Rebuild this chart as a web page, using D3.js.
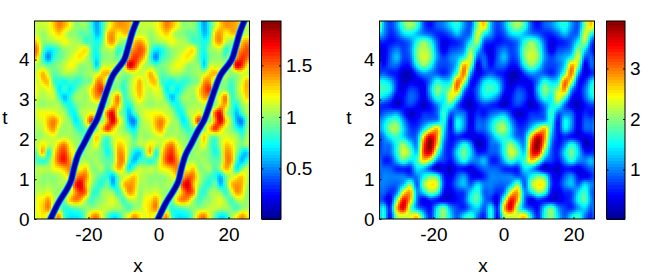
<!DOCTYPE html>
<html><head><meta charset="utf-8">
<script src="https://cdn.jsdelivr.net/npm/d3@7"></script>
<style>html,body{margin:0;padding:0;background:#fff}svg{display:block}text{font-family:"Liberation Sans",Arial,sans-serif;fill:#000}</style>
</head><body><svg id="c" width="656" height="277"></svg>
<script>
const xDomain=[-35.4,26], tDomain=[0,4.97], period=30.7;
const xTicks=[-20,0,20], tTicks=[0,1,2,3,4];
const leftBarTicks=[0.5,1,1.5], rightBarTicks=[1,2,3];
const leftRange=[0.01,1.93], rightRange=[0.02,3.94];
const jetStops=[0,0.125,0.375,0.625,0.875,1];
const jetColors=["#00008f","#0000ff","#00ffff","#ffff00","#ff0000","#800000"];
// dark trough in the left panel: x and t along its track
const troughX=[-30.8,-28.6,-26.2,-25.0,-24.1,-22.9,-21.4,-19.5,-17.6,-16.2,-14.6,-12.9,-9.8,-8.6,-7.5,-6.2];
const troughT=[0,0.40,0.74,0.95,1.28,1.62,1.87,2.20,2.49,2.83,3.25,3.62,4.0,4.33,4.67,4.97];
// one spatial period, rows run from top (t≈5) to bottom (t=0)
const leftField=[
[1.1,1.1,1.15,1.3,1.45,1.35,1.2,1.0,1.0,1.0,0.8,0.55,0.8,1.1,1.3,1.4,1.4,1.35,1.2,1.1],
[1.1,1.0,1.1,1.2,1.3,1.15,1.0,1.0,0.9,0.9,0.85,0.6,0.8,1.3,1.4,1.2,1.3,1.3,1.1,1.1],
[1.25,1.0,1.0,1.05,1.1,1.2,1.1,1.05,1.0,0.85,0.85,0.75,0.9,1.3,1.4,1.1,1.0,1.0,1.3,1.4],
[1.4,0.9,0.7,0.75,0.9,1.0,1.05,1.1,1.2,1.25,0.9,0.75,1.0,1.05,1.1,0.8,0.95,1.3,1.45,1.55],
[1.25,0.8,0.5,0.8,0.9,1.0,1.1,1.2,1.25,1.1,0.9,0.7,0.95,1.0,1.0,0.9,1.2,1.4,1.6,1.5],
[1.05,1.0,0.9,0.95,1.0,1.1,1.2,1.15,1.0,1.0,1.0,0.65,1.1,1.1,1.1,1.1,1.1,1.75,1.6,1.25],
[1.15,1.35,1.1,0.9,0.95,1.05,1.05,1.0,0.95,1.0,1.05,1.1,1.3,1.35,1.2,1.1,1.0,1.05,1.15,1.1],
[1.1,1.3,1.3,0.85,0.8,0.75,0.85,0.8,0.85,0.95,1.0,1.4,1.4,1.0,1.0,1.0,0.85,1.0,1.15,1.35],
[1.15,1.1,1.2,1.05,0.7,0.85,0.7,0.85,1.0,1.05,1.25,1.5,1.6,1.1,1.0,1.0,0.8,1.0,1.2,1.35],
[1.1,1.05,1.1,1.1,0.85,0.6,0.8,1.0,1.05,1.0,1.2,1.4,1.35,1.05,1.2,1.45,0.85,0.95,1.1,1.3],
[1.05,1.0,1.05,1.05,1.05,0.85,0.75,0.9,1.0,1.05,1.05,1.1,1.0,1.0,1.3,1.35,0.9,0.75,1.0,1.1],
[1.15,1.2,1.2,1.2,1.1,1.05,0.8,0.75,1.05,1.1,1.2,1.1,1.0,1.5,1.7,1.1,0.9,0.6,0.85,1.05],
[1.1,1.15,1.35,1.45,1.25,1.05,1.0,0.7,0.85,1.2,1.6,1.3,1.0,1.4,1.75,1.3,1.0,0.6,0.5,0.95],
[1.05,1.1,1.3,1.4,1.1,1.0,1.05,0.9,0.8,0.95,1.0,1.0,1.3,1.6,1.35,1.1,1.0,0.8,0.7,1.0],
[1.0,1.05,1.1,1.15,1.05,1.1,1.05,1.0,0.95,0.85,1.0,1.3,1.0,0.9,1.1,1.15,1.1,1.05,0.85,1.05],
[1.1,1.25,1.1,1.1,1.35,1.45,1.2,1.05,1.0,1.0,1.05,1.2,0.9,0.8,1.05,1.3,1.25,1.05,0.95,1.05],
[1.0,1.35,0.75,1.2,1.5,1.6,1.3,1.15,1.0,1.0,1.05,1.0,0.95,0.75,0.95,1.4,1.35,1.0,0.7,0.65],
[0.85,0.8,0.9,1.25,1.55,1.65,1.4,1.2,1.05,1.05,1.0,1.05,0.95,0.9,0.95,1.4,1.4,0.85,0.6,0.8],
[1.05,1.1,1.05,1.2,1.25,1.35,1.45,1.3,1.2,1.3,1.0,1.0,1.05,0.85,1.05,1.35,1.2,0.7,0.95,1.1],
[1.05,1.0,1.0,1.0,1.05,1.15,1.3,1.35,1.5,1.45,1.1,0.95,0.85,0.8,0.6,0.95,1.1,1.2,1.3,1.1],
[1.05,1.0,1.05,1.0,1.05,1.05,1.1,1.6,1.75,1.35,1.05,0.85,0.8,0.95,0.6,0.9,1.3,1.4,1.35,1.05],
[1.1,1.1,1.15,1.05,1.0,1.05,1.1,1.4,1.6,1.45,0.9,0.8,1.0,1.05,1.0,0.8,1.1,1.4,1.3,1.0],
[1.2,1.25,1.4,1.1,1.0,0.95,1.3,1.45,1.35,1.05,0.85,0.95,1.0,1.1,1.15,1.0,0.85,1.05,1.1,1.0],
[1.2,1.3,1.45,1.05,1.0,0.8,0.85,0.9,0.95,1.0,1.0,1.05,1.1,1.1,1.05,1.05,0.95,0.85,1.0,1.05],
[1.15,1.25,1.1,1.2,1.4,0.85,0.7,0.7,0.75,1.0,1.35,1.45,1.15,0.9,0.7,0.75,1.0,1.2,1.4,1.25]];
const rightField=[
[1.25,.75,1.1,1.8,2.1,1.7,.85,.55,.85,1.0,1.35,1.6,1.1,.85,2.0,2.6],
[1.1,.65,.85,1.35,1.5,1.25,1.0,.85,.65,.65,.9,1.25,.9,1.0,2.3,1.6],
[.65,.55,.65,.75,1.0,1.6,2.0,1.6,.85,.4,.55,.65,.9,1.5,2.1,.85],
[.4,.75,1.0,.75,1.0,1.9,2.2,1.9,1.0,.4,.75,.85,1.1,2.0,1.4,.65],
[.4,.85,1.25,.75,.9,1.9,2.3,2.0,1.1,.75,1.0,1.2,1.6,2.3,.85,.9],
[.55,.85,.9,.55,.65,1.5,2.0,1.6,.9,.75,.9,1.4,2.8,2.0,.4,.9],
[.85,.65,.55,.25,.25,.75,1.1,1.0,.85,.65,1.0,1.9,3.0,1.2,.4,.65],
[1.5,1.25,.65,.25,.4,.4,.55,1.0,1.6,1.35,1.5,3.0,2.3,.65,.65,1.35],
[1.7,1.5,.65,.4,.75,.65,.4,1.25,2.0,1.7,2.1,2.9,1.2,.55,.9,1.6],
[1.35,1.0,.4,.55,.9,.75,.4,1.0,1.7,1.5,2.4,1.8,.65,.4,.85,1.4],
[.65,.55,.25,.55,.75,.55,.25,.55,1.0,1.5,1.7,.9,.4,.25,.55,.75],
[.85,1.0,1.1,.65,.25,.4,.65,.65,.9,1.7,.9,1.0,.9,.4,.65,.55],
[1.25,1.7,1.8,1.1,.55,.55,.85,1.0,1.1,1.6,.55,1.5,1.1,.4,.85,.85],
[1.35,2.0,2.1,1.35,.75,.75,1.4,2.2,2.7,1.5,.55,1.4,1.0,.4,.85,.9],
[1.0,1.5,1.7,1.35,.9,1.0,2.6,3.6,2.9,1.25,.55,.65,.55,.4,.4,.55],
[.9,1.0,1.6,2.1,1.5,1.1,3.1,3.9,2.6,1.0,.55,1.0,1.6,1.1,.25,.4],
[.85,.9,1.6,2.3,1.9,1.35,3.2,3.5,1.9,.85,.65,1.4,1.9,1.35,.65,.65],
[.65,.65,1.25,1.8,1.4,1.7,2.6,2.1,1.0,.75,.55,1.1,1.6,1.1,1.0,1.25],
[.9,.85,.65,.65,.65,1.4,1.25,.75,.25,.4,.25,.55,.55,.4,.65,.9],
[1.0,1.0,1.0,1.0,.85,1.0,1.5,1.9,1.7,.65,.4,.85,1.1,.55,.4,.65],
[1.0,.9,.9,1.25,2.0,.85,2.0,2.5,2.3,.75,.55,1.0,1.25,.85,1.35,1.0],
[.9,.65,1.0,2.4,2.8,1.1,1.4,2.0,1.7,.55,.4,.65,.75,1.35,1.7,.9],
[.75,.4,2.0,3.4,2.7,1.0,.4,.65,.55,.4,.4,.55,.75,1.5,1.8,1.0],
[1.5,.65,2.7,3.5,2.0,1.1,.75,.55,1.4,1.9,1.1,.75,.65,1.1,1.35,.85],
[1.6,.55,2.1,2.3,2.3,2.6,1.4,.65,1.6,2.0,1.35,.85,1.4,1.7,1.0,.65]];

const svg=d3.select("#c");
const cubic=(a,b,c,d,f)=>b+0.5*f*(c-a+f*(2*a-5*b+4*c-d+f*(3*(b-c)+d-a)));
function sample(field,cols,u,v){
  const rows=field.length;
  const ci=Math.floor(u),ri=Math.floor(v),fu=u-ci,fv=v-ri;
  const at=(r,c)=>field[Math.max(0,Math.min(rows-1,r))][((c%cols)+cols)%cols];
  const row=r=>cubic(at(r,ci-1),at(r,ci),at(r,ci+1),at(r,ci+2),fu);
  return cubic(row(ri-1),row(ri),row(ri+1),row(ri+2),fv);
}
function panel(o){
  const x=d3.scaleLinear().domain(xDomain).range([o.left,o.left+215]);
  const y=d3.scaleLinear().domain(tDomain).range([219,21]);
  const g=svg.append("g");
  const frac=d3.scaleLinear().domain(o.range).range([0,1]);
  const jetScale=d3.scaleLinear().domain(jetStops).range(jetColors).interpolate(d3.interpolateRgb).clamp(true);
  const color=v=>jetScale(frac(v));
  const cols=o.field[0].length,rows=o.field.length;
  const step=2,cells=[];
  const dx=x.invert(o.left+step)-xDomain[0], dt=y.invert(21)-y.invert(21+step);
  for(let t=tDomain[0];t<tDomain[1];t+=dt)for(let xv=xDomain[0];xv<xDomain[1];xv+=dx){
    const u=((xv+dx/2-xDomain[0])/period)*cols-0.5;
    const v=((tDomain[1]-(t+dt/2))/(tDomain[1]-tDomain[0]))*rows-0.5;
    cells.push({x:xv,t:t,v:sample(o.field,cols,u,v)});
  }
  const clip="clip"+Math.round(o.left);
  g.append("clipPath").attr("id",clip).append("rect").attr("x",o.left).attr("y",21).attr("width",215).attr("height",198);
  g.append("g").attr("clip-path",`url(#${clip})`).attr("shape-rendering","crispEdges").selectAll("rect").data(cells).join("rect")
    .attr("x",d=>x(d.x)).attr("y",d=>y(d.t+dt)).attr("width",step+0.5).attr("height",step+0.5).attr("fill",d=>color(d.v));
  if(o.trough){
    const line=d3.line().x(d=>x(d[0])).y(d=>y(d[1])).curve(d3.curveCatmullRom.alpha(0.5));
    [0,period].forEach(off=>{
      const pts=troughX.map((v,i)=>[v+off,troughT[i]]);
      [[7,0.6],[5.5,0.3],[3.8,0.04]].forEach(([w,val])=>
        g.append("path").attr("clip-path",`url(#${clip})`).attr("d",line(pts)).attr("fill","none").attr("stroke",color(val)).attr("stroke-width",w).attr("stroke-linecap","square"));
    });
  }
  const ax=g.append("g").attr("transform","translate(0,219)").call(d3.axisBottom(x).tickValues(xTicks).tickSize(-2).tickPadding(9).tickFormat(d=>d<0?"-"+(-d):String(d)));
  const ay=g.append("g").attr("transform",`translate(${o.left},0)`).call(d3.axisLeft(y).tickValues(tTicks).tickSize(-2).tickPadding(5).tickFormat(d=>String(d)));
  [ax,ay].forEach(a=>{a.selectAll("text").attr("font-size",19).style("font-family",'"Liberation Sans"');a.select(".domain").remove();a.selectAll("line").attr("stroke","#000")});
  g.append("rect").attr("x",o.left).attr("y",21).attr("width",215).attr("height",198).attr("fill","none").attr("stroke","#000");
  g.append("text").attr("x",o.xLabelX).attr("y",272).attr("text-anchor","middle").attr("font-size",19).text("x");
  g.append("text").attr("x",o.tLabelX).attr("y",124).attr("text-anchor","middle").attr("font-size",19).text("t");
  // colour bar
  const by=d3.scaleLinear().domain(o.range).range([219,21]);
  const levels=d3.range(64).map(i=>o.range[0]+(i+0.5)/64*(o.range[1]-o.range[0]));
  const h=(o.range[1]-o.range[0])/64;
  g.append("g").attr("shape-rendering","crispEdges").selectAll("rect").data(levels).join("rect")
    .attr("x",o.barX).attr("width",o.barW).attr("y",d=>by(d+h/2)).attr("height",d=>by(d-h/2)-by(d+h/2)+0.5).attr("fill",color);
  g.append("rect").attr("x",o.barX).attr("y",21).attr("width",o.barW).attr("height",198).attr("fill","none").attr("stroke","#000");
  const ab=g.append("g").attr("transform",`translate(${o.barX+o.barW},0)`).call(d3.axisRight(by).tickValues(o.barTicks).tickSize(-2).tickPadding(5).tickFormat(d=>String(d)));
  ab.select(".domain").remove();
  ab.selectAll("text").attr("font-size",19).style("font-family",'"Liberation Sans"');
  ab.selectAll("line").attr("stroke","#000");
  g.append("g").attr("transform",`translate(${o.barX},0)`).call(d3.axisRight(by).tickValues(o.barTicks).tickSize(2).tickFormat("")).call(s=>s.select(".domain").remove());
}
panel({left:34.5,field:leftField,range:leftRange,trough:true,barX:261.5,barW:19.5,barTicks:leftBarTicks,xLabelX:138,tLabelX:5});
panel({left:379.5,field:rightField,range:rightRange,trough:false,barX:606.5,barW:18.5,barTicks:rightBarTicks,xLabelX:483,tLabelX:349});
</script></body></html>
